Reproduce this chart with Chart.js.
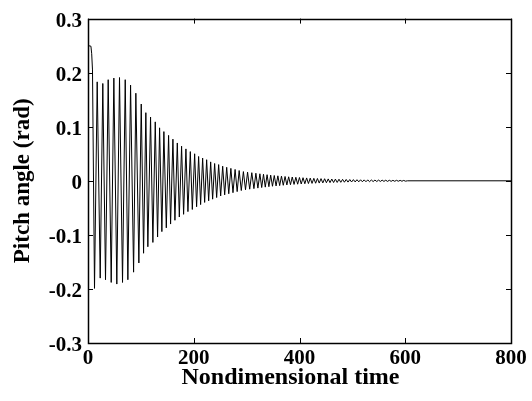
<!DOCTYPE html>
<html>
<head>
<meta charset="utf-8">
<script src="https://cdn.jsdelivr.net/npm/chart.js@4/dist/chart.umd.min.js"></script>
<style>
  html, body { margin: 0; padding: 0; background: #fff; }
  #wrap { width: 532px; height: 401px; }
</style>
</head>
<body>
<div id="wrap"><canvas id="chart-pitch"></canvas></div>
<script>
// Initial release (held angle, then drop)
const startTime  = [0, 5.5, 7, 8.5];
const startPitch = [0.25, 0.249, 0.235, 0.205];

// Large oscillation, extrema (alternating trough / peak)
const swingTime = [
  12.3, 17.4, 23.1, 28.0, 33.1, 38.2, 43.9, 48.9, 54.5, 59.6,
  65.3, 70.4, 75.4, 80.5, 86.2, 90.5, 96.2, 100.7, 105.1, 109.4,
  113.2, 118.3, 122.7, 127.2, 131.6, 135.4, 139.7, 143.5, 148.1, 152.4,
  156.2, 160.6, 164.4, 168.9, 172.7, 177.0, 180.8, 185.2, 189.0, 193.5,
  197.3, 201.7, 205.4, 209.2, 213.0, 216.8, 220.6, 224.4, 228.2, 232.0,
  235.7, 239.5, 243.3, 247.1, 250.9, 254.7, 258.5, 262.3, 266.2, 270.2,
  274.2, 278.2, 282.1, 285.9, 289.9, 293.9, 297.9, 301.8, 305.8, 309.8,
  313.8, 317.5, 321.3, 325.1
];
const swingPitch = [
  -0.199, 0.183, -0.180, 0.180, -0.183, 0.187, -0.188, 0.190, -0.191, 0.191,
  -0.188, 0.187, -0.183, 0.177, -0.169, 0.162, -0.152, 0.142, -0.134, 0.126,
  -0.122, 0.118, -0.114, 0.109, -0.104, 0.098, -0.094, 0.091, -0.087, 0.084,
  -0.080, 0.077, -0.073, 0.070, -0.067, 0.064, -0.062, 0.059, -0.057, 0.054,
  -0.053, 0.050, -0.048, 0.045, -0.044, 0.042, -0.040, 0.039, -0.037, 0.035,
  -0.034, 0.032, -0.031, 0.030, -0.028, 0.027, -0.026, 0.025, -0.024, 0.023,
  -0.022, 0.021, -0.020, 0.019, -0.018, 0.017, -0.0165, 0.016, -0.0155, 0.015,
  -0.0145, 0.014, -0.0135, 0.013
];

// Small residual ripple and settled tail
const tailTime = [
  328.5, 331.9, 335.3, 338.7, 342.1, 345.5, 348.9, 352.3, 355.7, 359.1,
  362.5, 365.9, 369.3, 372.7, 376.1, 379.5, 382.9, 386.3, 389.7, 393.1,
  396.5, 399.9, 403.3, 406.7, 410.1, 413.5, 416.9, 420.3, 423.7, 427.1,
  430.5, 433.9, 437.3, 440.7, 444.1, 447.5, 450.9, 454.3, 457.7, 461.1,
  464.5, 467.9, 471.3, 474.7, 478.1, 481.5, 484.9, 488.3, 491.7, 495.1,
  498.5, 501.9, 505.3, 508.7, 512.1, 515.5, 518.9, 522.3, 525.7, 529.1,
  532.5, 535.9, 539.3, 542.7, 546.1, 549.5, 552.9, 556.3, 559.7, 563.1,
  566.5, 569.9, 573.3, 576.7, 580.1, 583.5, 586.9, 590.3, 593.7, 597.1,
  600.5, 604, 800
];
const tailPitch = [
  -0.0125, 0.0121, -0.0117, 0.0113, -0.0109, 0.0105, -0.0101, 0.0098, -0.0095, 0.0092,
  -0.0089, 0.0086, -0.0083, 0.0080, -0.0077, 0.0074, -0.0072, 0.0070, -0.0067, 0.0065,
  -0.0063, 0.0061, -0.0059, 0.0057, -0.0055, 0.0053, -0.0051, 0.0049, -0.0048, 0.0046,
  -0.0045, 0.0043, -0.0042, 0.0040, -0.0039, 0.0038, -0.0036, 0.0035, -0.0034, 0.0033,
  -0.0032, 0.0031, -0.0030, 0.0029, -0.0028, 0.0027, -0.0026, 0.0025, -0.0024, 0.0023,
  -0.0022, 0.0022, -0.0021, 0.0020, -0.0019, 0.0019, -0.0018, 0.0017, -0.0017, 0.0016,
  -0.0016, 0.0015, -0.0014, 0.0014, -0.0013, 0.0013, -0.0012, 0.0012, -0.0011, 0.0011,
  -0.0011, 0.0010, -0.0010, 0.0009, -0.0009, 0.0009, -0.0008, 0.0008, -0.0008, 0.0007,
  -0.0007, 0, 0
];

const xTicks = [0, 200, 400, 600, 800];
const yTicks = [-0.3, -0.2, -0.1, 0, 0.1, 0.2, 0.3];
const xTitle = "Nondimensional time";

const allTime = startTime.concat(swingTime, tailTime);
const allPitch = startPitch.concat(swingPitch, tailPitch);
const points = allTime.map((t, i) => ({ x: t, y: allPitch[i] }));

const serif = "'Liberation Serif', 'Times New Roman', serif";

// Box frame + inward tick marks on all four sides, plus the x title
// (drawn by hand since it sits a bit left of the plot centre)
const frameTicks = {
  id: "frameTicks",
  afterDraw(chart) {
    const { ctx, chartArea: a, scales } = chart;
    const len = 5;
    ctx.save();
    ctx.strokeStyle = "#000";
    ctx.lineWidth = 1;
    ctx.beginPath();
    xTicks.forEach(v => {
      const px = Math.round(scales.x.getPixelForValue(v)) + 0.5;
      ctx.moveTo(px, a.bottom); ctx.lineTo(px, a.bottom - len);
      ctx.moveTo(px, a.top); ctx.lineTo(px, a.top + len);
    });
    yTicks.forEach(v => {
      const py = Math.round(scales.y.getPixelForValue(v)) + 0.5;
      ctx.moveTo(a.left, py); ctx.lineTo(a.left + len, py);
      ctx.moveTo(a.right, py); ctx.lineTo(a.right - len, py);
    });
    ctx.stroke();
    ctx.lineWidth = 1.5;
    ctx.strokeRect(Math.round(a.left) + 0.5, Math.round(a.top) + 0.5,
      Math.round(a.right - a.left), Math.round(a.bottom - a.top));

    ctx.fillStyle = "#000";
    ctx.font = "bold 24px " + serif;
    ctx.textAlign = "center";
    ctx.textBaseline = "alphabetic";
    ctx.fillText(xTitle, (a.left + a.right) / 2 - 9, 384);
    ctx.restore();
  }
};

const ctx = document.getElementById("chart-pitch").getContext("2d");
new Chart(ctx, {
  type: "line",
  data: {
    datasets: [{
      data: points,
      borderColor: "#000",
      borderWidth: 1,
      pointRadius: 0,
      tension: 0,
      fill: false
    }]
  },
  options: {
    responsive: true,
    maintainAspectRatio: false,
    animation: false,
    layout: { padding: { top: 17, right: 21, left: 0, bottom: 0 } },
    plugins: {
      legend: { display: false },
      tooltip: { enabled: false }
    },
    scales: {
      x: {
        type: "linear",
        min: 0,
        max: 800,
        afterFit: s => { s.height = 58; },
        afterBuildTicks: s => { s.ticks = xTicks.map(v => ({ value: v })); },
        grid: { display: false, drawTicks: false },
        border: { display: false },
        ticks: {
          color: "#000",
          padding: 3,
          maxRotation: 0,
          font: { family: serif, size: 21, weight: "bold" },
          callback: v => String(v)
        },
        title: { display: false }
      },
      y: {
        min: -0.3,
        max: 0.3,
        afterFit: s => { s.width = 88; },
        afterBuildTicks: s => { s.ticks = yTicks.map(v => ({ value: v })); },
        grid: { display: false, drawTicks: false },
        border: { display: false },
        ticks: {
          color: "#000",
          padding: 6,
          labelOffset: 3,
          font: { family: serif, size: 21, weight: "bold" },
          callback: v => (Math.abs(v) < 1e-9 ? "0" : String(parseFloat(v.toFixed(1))))
        },
        title: {
          display: true,
          text: "Pitch angle (rad)",
          color: "#000",
          padding: { top: 9, bottom: 0 },
          font: { family: serif, size: 23, weight: "bold" }
        }
      }
    }
  },
  plugins: [frameTicks]
});
</script>
</body>
</html>
